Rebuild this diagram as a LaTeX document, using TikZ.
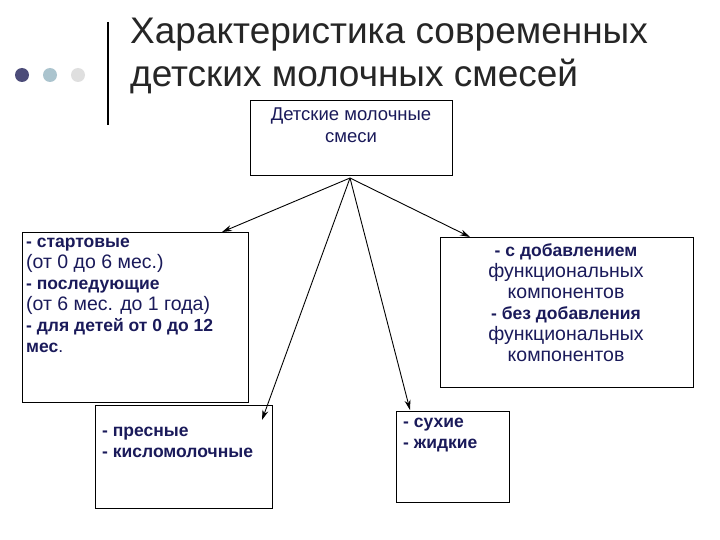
\documentclass[tikz,border=0pt]{standalone}
\usepackage{fontspec}
\setmainfont{Liberation Sans}
\usetikzlibrary{arrows.meta}
\definecolor{txt}{HTML}{1A1A5A}
\newcommand{\rg}[1]{{\fontsize{19.5}{21}\selectfont #1}}
\begin{document}
\begin{tikzpicture}[x=1pt,y=-1pt,
 box/.style={draw,line width=1pt,anchor=north west,inner sep=0pt},
 lbl/.style={text=txt,font=\bfseries\fontsize{17.5}{21}\selectfont,inner sep=0pt},
 arr/.style={-{Stealth[length=10pt,width=6pt]},line width=0.9pt}]
\useasboundingbox (0,0) rectangle (720,540);
\fill[white] (0,0) rectangle (720,540);
\fill[black!75!blue!70] (22,75) circle (7);
\fill[cyan!30!gray!60] (50,75) circle (7);
\fill[gray!25] (78,75) circle (7);
\draw[line width=1.3pt] (108,22) -- (108,125);
\node[anchor=west,inner sep=0pt,font=\fontsize{37}{43}\selectfont,align=left,text=black!85] (title) at (130,56) {Характеристика современных\\детских молочных смесей};
\node[box,minimum width=202pt,minimum height=75pt] (top) at (250,100) {};
\node[lbl,anchor=north,align=center,font=\fontsize{18.5}{22}\selectfont] (toptxt) at (351,108) {Детские молочные\\смеси};
\node[box,minimum width=226pt,minimum height=170pt] (left) at (22,232) {};
\node[lbl,anchor=north west,align=left] (lefttxt) at (26,238) {- стартовые\\ \rg{\mdseries(от 0 до 6 мес.)}\\- последующие\\\rg{\mdseries(от 6 мес. до 1 года)}\\- для детей от 0 до 12\\мес\mdseries.};
\node[box,minimum width=253pt,minimum height=150pt] (right) at (440,237) {};
\node[lbl,anchor=north,align=center] (righttxt) at (566,243) {- с добавлением\\\rg{\mdseries функциональных}\\\rg{\mdseries компонентов}\\- без добавления\\\rg{\mdseries функциональных}\\\rg{\mdseries компонентов}};
\node[box,minimum width=177pt,minimum height=103pt] (bl) at (95,405) {};
\node[lbl,anchor=north west,align=left] (bltxt) at (102,427) {- пресные\\- кисломолочные};
\node[box,minimum width=113pt,minimum height=91pt] (bm) at (396,411) {};
\node[lbl,anchor=north west,align=left] (bmtxt) at (403,418) {- сухие\\- жидкие};
\coordinate (o) at (350,178);
\coordinate (e1) at (222,232);
\coordinate (e2) at (470,237);
\coordinate (e3) at (410,410);
\coordinate (e4) at (262,420);
\draw[arr] (o) -- (e1);
\draw[arr] (o) -- (e2);
\draw[arr] (o) -- (e3);
\draw[arr] (o) -- (e4);
\end{tikzpicture}
\end{document}
